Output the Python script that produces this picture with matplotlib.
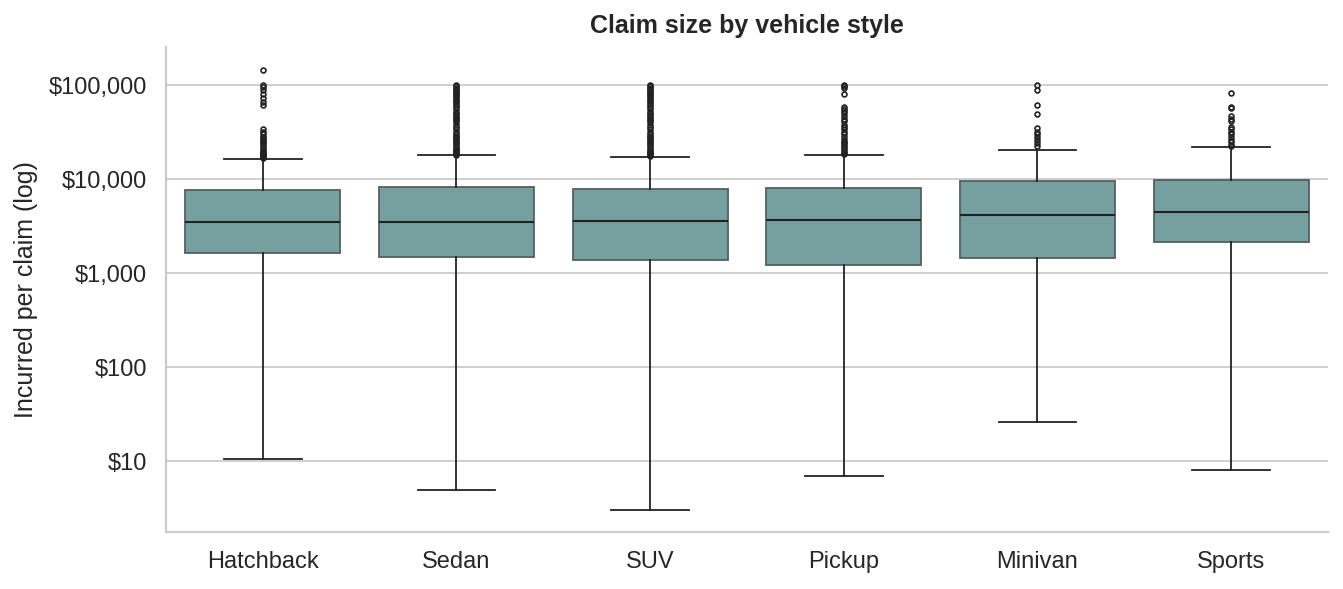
import matplotlib
matplotlib.use("Agg")
import matplotlib.pyplot as plt
from matplotlib.ticker import FuncFormatter, FixedLocator

categories = ["Hatchback", "Sedan", "SUV", "Pickup", "Minivan", "Sports"]
q1 = [1630, 1480, 1375, 1216, 1445, 2140]
median = [3490, 3490, 3570, 3660, 4140, 4450]
q3 = [7640, 8220, 7850, 8000, 9530, 9760]
whisker_low = [10.5, 4.9, 3.0, 6.9, 26, 8.0]
whisker_high = [16300, 18000, 17100, 18000, 20400, 21900]

fliers_hatchback = [144000, 100000, 95000, 88000, 80000, 72000, 66000, 61000,
                    34000, 32000, 30000, 28000, 27000, 26000, 25000, 24000, 23000,
                    22000, 21000, 20000, 19500, 19000, 18500, 18000, 17500, 17000, 16800]
fliers_sedan = [100000, 97000, 94000, 91000, 88000, 85000, 82000, 79000, 76000,
                73000, 70000, 67000, 64000, 61000, 58000, 55000, 52000, 50000,
                48000, 46000, 44000, 42000, 40000, 38000, 36000, 34000, 32000,
                30000, 29000, 28000, 27000, 26000, 25000, 24000, 23000, 22000,
                21000, 20500, 20000, 19500, 19000, 18500, 18200]
fliers_suv = [100000, 97000, 94000, 91000, 88000, 85000, 82000, 79000, 76000,
              73000, 70000, 67000, 64000, 61000, 58000, 55000, 52000, 50000,
              48000, 46000, 44000, 42000, 40000, 38000, 36000, 34000, 32000,
              30000, 29000, 28000, 27000, 26000, 25000, 24000, 23000, 22000,
              21000, 20000, 19500, 19000, 18500, 18000, 17500]
fliers_pickup = [100000, 97000, 94000, 80000, 59000, 56000, 53000, 50000, 47000,
                 44000, 41000, 38000, 36000, 34000, 32000, 30000, 28000, 26000,
                 25000, 24000, 23000, 22000, 21000, 20000, 19000, 18500]
fliers_minivan = [100000, 89000, 61000, 49000, 35000, 32000, 30000, 28000, 26000,
                  24000, 22500]
fliers_sports = [81500, 59000, 57000, 47000, 44000, 41000, 36000, 34000, 32000,
                 30000, 28000, 26000, 24500, 23000, 22500]
fliers = [fliers_hatchback, fliers_sedan, fliers_suv, fliers_pickup,
          fliers_minivan, fliers_sports]

tick_values = [10, 100, 1000, 10000, 100000]

plt.rcParams["font.family"] = ["Liberation Sans", "DejaVu Sans"]

fig = plt.figure(figsize=(13.43, 5.89), dpi=100)
ax = fig.add_axes([0.1236, 0.0968, 0.8652, 0.8232])

stats = []
for i, c in enumerate(categories):
    stats.append(dict(label=c, q1=q1[i], med=median[i], q3=q3[i],
                      whislo=whisker_low[i], whishi=whisker_high[i],
                      fliers=fliers[i]))

ax.bxp(stats, positions=range(len(categories)), widths=0.8, patch_artist=True,
       boxprops=dict(facecolor="#75a09f", edgecolor="#555f5f", linewidth=1.3),
       medianprops=dict(color="#222222", linewidth=1.5),
       whiskerprops=dict(color="#222222", linewidth=1.3),
       capprops=dict(color="#222222", linewidth=1.3),
       capwidths=0.4,
       flierprops=dict(marker="o", markersize=3.5, markerfacecolor="none",
                       markeredgecolor="#222222", markeredgewidth=1.2))

ax.set_yscale("log")
ax.set_ylim(1.76, 253000)
ax.set_xlim(-0.5, len(categories) - 0.5)
ax.yaxis.set_major_locator(FixedLocator(tick_values))
ax.yaxis.set_minor_locator(FixedLocator([]))
ax.yaxis.set_major_formatter(FuncFormatter(lambda v, p: f"${v:,.0f}"))
ax.set_xticks(range(len(categories)))
ax.set_xticklabels(categories)

ax.grid(axis="y", color="#cccccc", linewidth=1.3)
ax.set_axisbelow(True)
for s in ["top", "right"]:
    ax.spines[s].set_visible(False)
for s in ["left", "bottom"]:
    ax.spines[s].set_color("#cccccc")
    ax.spines[s].set_linewidth(1.6)
ax.tick_params(axis="both", length=0, labelsize=17, colors="#262626", pad=13.5)

ax.set_ylabel("Incurred per claim (log)", fontsize=18, color="#262626", labelpad=8)
ax.set_title("Claim size by vehicle style", fontsize=18, fontweight="bold",
             color="#262626", pad=10)

fig.savefig("out.png", dpi=100, facecolor="white")
